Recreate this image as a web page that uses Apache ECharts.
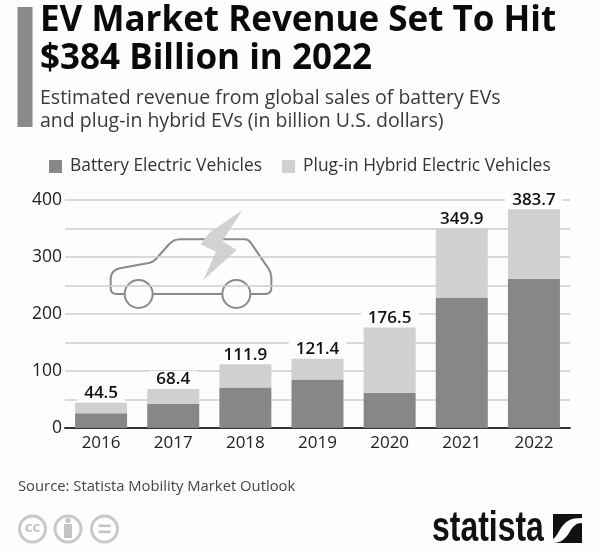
<!DOCTYPE html>
<html>
<head>
<meta charset="utf-8">
<style>
  html, body { margin: 0; padding: 0; background: #fdfdfd; }
  #chart { width: 600px; height: 550px; }
</style>
<script src="https://cdn.jsdelivr.net/npm/echarts@6/dist/echarts.min.js"></script>
</head>
<body>
<div id="chart"></div>
<script>
// data
const years = ['2016', '2017', '2018', '2019', '2020', '2021', '2022'];
const batteryValues = [26, 42, 71, 85, 62, 228, 262];
const hybridValues = [18.5, 26.4, 40.9, 36.4, 114.5, 121.9, 121.7];
const totalLabels = ['44.5', '68.4', '111.9', '121.4', '176.5', '349.9', '383.7'];

const BG = '#fdfdfd';
const FONT = '"Open Sans", "Noto Sans", sans-serif';
const DARK_BAR = '#878787';
const LIGHT_BAR = '#d0d0d0';

// car icon, drawn in 3x units and scaled down
const carBody = 'M104 312 L80 312 Q62 312 62 295 L62 265 Q64 240 90 235 L180 218 Q190 216 198 207 L235 165 Q250 148 270 148 L465 148 Q475 148 482 158 L535 235 Q544 248 544 262 L544 295 Q544 312 525 312 L482 312 M188 312 L397 312';
const carFill = 'M62 312 L62 265 Q64 240 90 235 L180 218 Q190 216 198 207 L235 165 Q250 148 270 148 L465 148 Q475 148 482 158 L535 235 Q544 248 544 262 L544 312 Z';
const bolt = 'M458 60 L358 128 L332 163 L378 185 L340 270 L440 180 L397 153 Z';
const swoosh = 'M582 518 C570 518 566 521 561 528 C558 533 556 537 553 539 L553 543 C561 543 565 539 569 533 C573 526 576 523 582 523 Z';

echarts.graphic.registerShape('carBody', echarts.graphic.extendPath(carBody));
echarts.graphic.registerShape('carFill', echarts.graphic.extendPath(carFill));
echarts.graphic.registerShape('bolt', echarts.graphic.extendPath(bolt));
echarts.graphic.registerShape('swoosh', echarts.graphic.extendPath(swoosh));

function carGraphic() {
    const base = { x: 90, y: 190, scaleX: 1 / 3, scaleY: 1 / 3 };
    const out = [
        { type: 'carFill', ...base, style: { fill: BG, stroke: BG, lineWidth: 42 } },
        { type: 'carBody', ...base, style: { fill: 'none', stroke: '#8a8a8a', lineWidth: 6 } }
    ];
    [146, 439].forEach(cx => {
        out.push({ type: 'circle', ...base, shape: { cx: cx, cy: 312, r: 42 }, style: { fill: BG, stroke: '#8a8a8a', lineWidth: 6 } });
    });
    out.push({ type: 'bolt', ...base, style: { fill: '#d2d2d2' } });
    return out;
}

function licenceIcons() {
    const out = [];
    [32.5, 68, 104.5].forEach(cx => {
        out.push({ type: 'circle', shape: { cx: cx, cy: 529, r: 13 }, style: { fill: BG, stroke: '#c8c8c8', lineWidth: 3 } });
    });
    out.push({ type: 'text', x: 32.5, y: 528, style: { text: 'cc', font: 'bold 15px ' + FONT, fill: '#c4c4c4', align: 'center', verticalAlign: 'middle' } });
    out.push({ type: 'circle', shape: { cx: 68, cy: 520.5, r: 2.6 }, style: { fill: '#c4c4c4' } });
    out.push({ type: 'rect', shape: { x: 64, y: 524, width: 8, height: 14 }, style: { fill: '#c4c4c4' } });
    out.push({ type: 'rect', shape: { x: 98.5, y: 524.5, width: 12, height: 2.6 }, style: { fill: '#c4c4c4' } });
    out.push({ type: 'rect', shape: { x: 98.5, y: 530.5, width: 12, height: 2.6 }, style: { fill: '#c4c4c4' } });
    return out;
}

function logo() {
    return [
        { type: 'text', x: 432, y: 529, scaleX: 0.76, style: { text: 'statista', font: 'bold 42px "Liberation Sans", sans-serif', fill: '#111', align: 'left', verticalAlign: 'middle' } },
        { type: 'rect', shape: { x: 553, y: 514, width: 29, height: 29 }, style: { fill: '#111' } },
        { type: 'swoosh', style: { fill: BG } }
    ];
}

function headerText(text, y, font, fill) {
    return { type: 'text', x: 40, y: y, style: { text: text, font: font, fill: fill, verticalAlign: 'middle' } };
}

const chart = echarts.init(document.getElementById('chart'));
chart.setOption({
    backgroundColor: BG,
    animation: false,
    textStyle: { fontFamily: FONT },
    legend: {
        left: 44,
        top: 153,
        itemWidth: 13,
        itemHeight: 13,
        itemGap: 20,
        selectedMode: false,
        icon: 'rect',
        textStyle: { fontSize: 17.4, color: '#333', fontFamily: FONT, padding: [0, 0, 0, 3] }
    },
    grid: { left: 65, right: 30, top: 200, height: 228 },
    xAxis: {
        type: 'category',
        data: years,
        axisLine: { lineStyle: { color: '#333', width: 2 } },
        axisTick: { show: false },
        axisLabel: { color: '#222', fontSize: 17, margin: 7, fontFamily: FONT }
    },
    yAxis: {
        type: 'value',
        min: 0,
        max: 400,
        interval: 50,
        axisLine: { show: false },
        axisTick: { show: false },
        axisLabel: {
            color: '#222',
            fontSize: 17.5,
            margin: 3,
            fontFamily: FONT,
            formatter: v => (v % 100 === 0 ? String(v) : '')
        },
        splitLine: { lineStyle: { color: '#cdcdcd', width: 1.5 } }
    },
    series: [
        {
            name: 'Battery Electric Vehicles',
            type: 'bar',
            stack: 'total',
            barWidth: 52,
            itemStyle: { color: DARK_BAR },
            data: batteryValues
        },
        {
            name: 'Plug-in Hybrid Electric Vehicles',
            type: 'bar',
            stack: 'total',
            barWidth: 52,
            itemStyle: { color: LIGHT_BAR },
            label: {
                show: true,
                position: 'top',
                distance: 1,
                color: '#111',
                fontSize: 17,
                fontWeight: 600,
                fontFamily: FONT,
                backgroundColor: BG,
                padding: [0, 7, 0, 7],
                formatter: p => totalLabels[p.dataIndex]
            },
            data: hybridValues
        }
    ],
    graphic: [
        { type: 'rect', shape: { x: 17.5, y: 7, width: 15, height: 120 }, style: { fill: '#8a8a8a' } },
        headerText('EV Market Revenue Set To Hit', 21, 'bold 35px ' + FONT, '#0a0a0a'),
        headerText('$384 Billion in 2022', 59, 'bold 35px ' + FONT, '#0a0a0a'),
        headerText('Estimated revenue from global sales of battery EVs', 98, '19.5px ' + FONT, '#3a3a3a'),
        headerText('and plug-in hybrid EVs (in billion U.S. dollars)', 121, '19.5px ' + FONT, '#3a3a3a'),
        { type: 'text', x: 18, y: 487, style: { text: 'Source: Statista Mobility Market Outlook', font: '14.8px ' + FONT, fill: '#444', verticalAlign: 'middle' } },
        ...carGraphic(),
        ...licenceIcons(),
        ...logo()
    ]
});
</script>
</body>
</html>
